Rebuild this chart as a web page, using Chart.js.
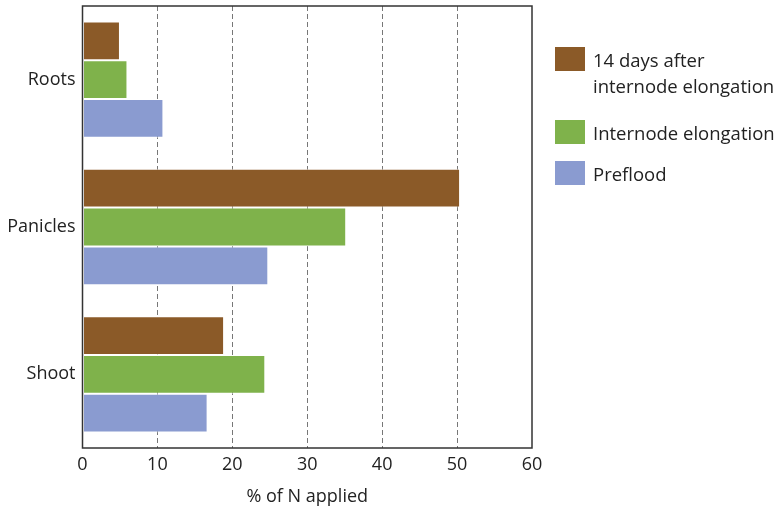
<!DOCTYPE html>
<html>
<head>
<meta charset="utf-8">
<script src="https://cdn.jsdelivr.net/npm/chart.js@4"></script>
<style>
  body { margin: 0; background: #fff; font-family: "Open Sans", sans-serif; }
  #wrap { position: relative; width: 778px; height: 512px; }
  #legend { position: absolute; left: 555px; top: 47px; color: #222; font-size: 18.5px; line-height: 26px; }
  .item { position: relative; padding-left: 38px; margin-bottom: 15px; }
  .item:first-child { margin-bottom: 21px; }
  .box { position: absolute; left: 0; top: 0; width: 30px; height: 24px; }
</style>
</head>
<body>
<div id="wrap">
  <canvas id="chart"></canvas>
  <div id="legend"></div>
</div>
<script>
// categories and series
const categories = ['Roots', 'Panicles', 'Shoot'];
const seriesNames = [['14 days after', 'internode elongation'], ['Internode elongation'], ['Preflood']];
const after14 = [5, 50.4, 18.9];
const internode = [6, 35.2, 24.4];
const preflood = [10.8, 24.8, 16.7];
const xTicks = [0, 10, 20, 30, 40, 50, 60];
const colors = ['#8b5a28', '#7fb24b', '#8a9bd0'];

// box around the plot area
const frame = {
  id: 'frame',
  afterDraw(chart) {
    const a = chart.chartArea, c = chart.ctx;
    c.save();
    c.strokeStyle = '#333';
    c.lineWidth = 1.5;
    c.strokeRect(a.left, a.top, a.right - a.left, a.bottom - a.top);
    c.restore();
  }
};

new Chart(document.getElementById('chart'), {
  type: 'bar',
  data: {
    labels: categories,
    datasets: [after14, internode, preflood].map((d, i) => ({
      label: seriesNames[i].join(' '),
      data: d,
      backgroundColor: colors[i],
      borderColor: 'rgba(255,255,255,0.7)',
      borderWidth: 1,
      borderSkipped: false,
      barPercentage: 1,
      categoryPercentage: 0.79
    }))
  },
  options: {
    indexAxis: 'y',
    responsive: true,
    maintainAspectRatio: false,
    animation: false,
    layout: { padding: { top: 6, right: 246, left: 0, bottom: 0 } },
    plugins: { legend: { display: false }, tooltip: { enabled: false } },
    scales: {
      x: {
        min: 0, max: 60,
        afterBuildTicks: s => { s.ticks = xTicks.map(v => ({ value: v })); },
        afterFit: s => { s.height = 64; s.paddingLeft = 0; s.paddingRight = 0; },
        grid: {
          color: c => (c.tick && (c.tick.value === 0 || c.tick.value === 60)) ? 'rgba(0,0,0,0)' : '#777',
          lineWidth: 1,
          drawTicks: false
        },
        border: { display: false, dash: [5, 3] },
        ticks: { color: '#222', font: { family: 'Open Sans', size: 18 }, padding: 6 },
        title: { display: true, text: '% of N applied', color: '#222', font: { family: 'Open Sans', size: 18 }, padding: { top: 3 } }
      },
      y: {
        afterFit: s => { s.width = 82.5; s.paddingTop = 0; s.paddingBottom = 0; },
        grid: { display: false, drawTicks: false },
        border: { display: false },
        ticks: { color: '#222', font: { family: 'Open Sans', size: 18 }, padding: 7 }
      }
    }
  },
  plugins: [frame]
});

// legend built from the same arrays
const lg = document.getElementById('legend');
seriesNames.forEach((name, i) => {
  const it = document.createElement('div');
  it.className = 'item';
  it.innerHTML = '<span class="box" style="background:' + colors[i] + '"></span>' + name.join('<br>');
  lg.appendChild(it);
});
</script>
</body>
</html>
